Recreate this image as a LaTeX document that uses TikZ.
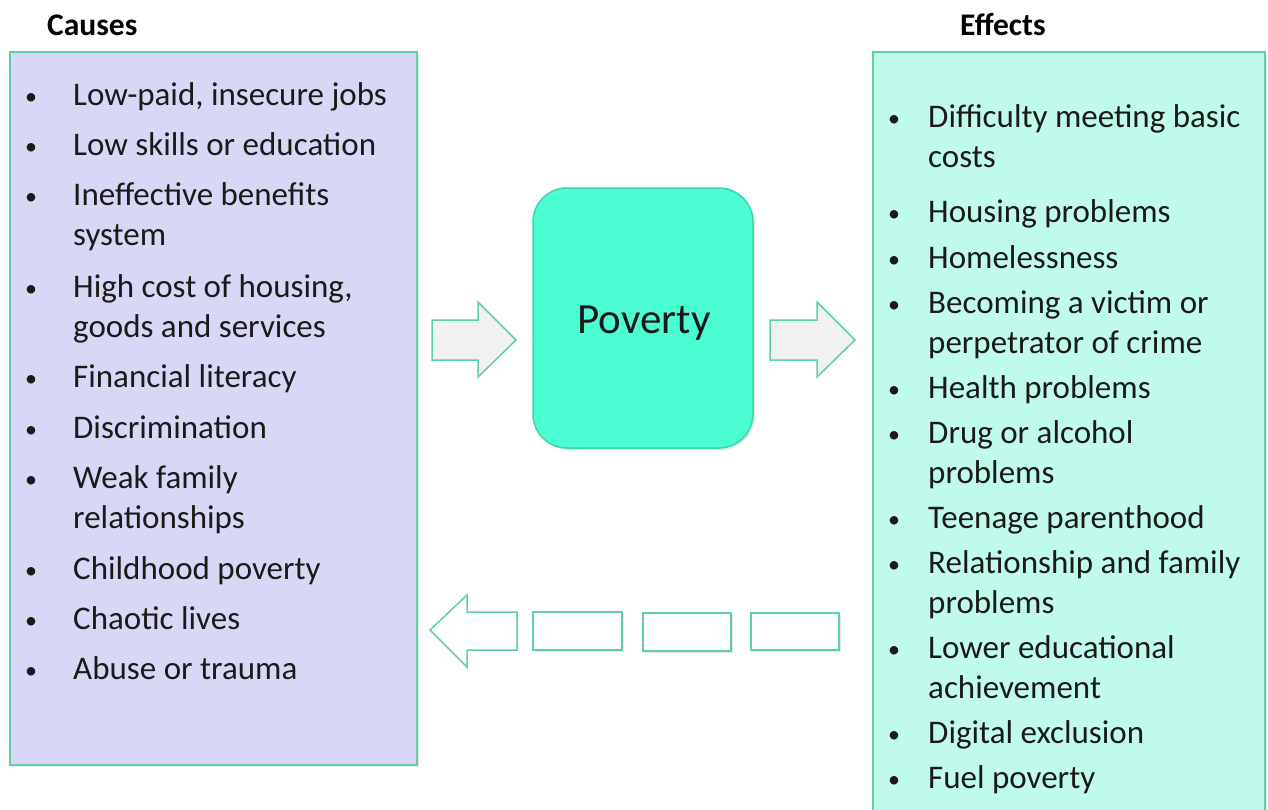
\documentclass[tikz,border=0pt]{standalone}
\usepackage{fontspec}
\setmainfont{Carlito}
\usetikzlibrary{shadows}
\definecolor{edgeteal}{HTML}{5CCFAE}
\definecolor{lavfill}{HTML}{D8D8F6}
\definecolor{mintfill}{HTML}{C0FAEB}
\definecolor{povfill}{HTML}{4BFDD2}
\definecolor{povedge}{HTML}{3CD5AE}
\definecolor{arrowfill}{HTML}{F1F1F1}
\definecolor{txt}{HTML}{1A1A1A}
\tikzset{
  panel/.style={draw=edgeteal, line width=2pt, drop shadow={shadow xshift=2pt, shadow yshift=-2pt, opacity=0.2}},
  blockarrow/.style={draw=edgeteal, line width=1.5pt, fill=arrowfill, line join=miter},
  dashbox/.style={draw=edgeteal, line width=1.5pt, fill=white, drop shadow={shadow xshift=1.5pt, shadow yshift=-1.5pt, opacity=0.2}},
  itemtxt/.style={anchor=base west, inner sep=0pt, align=left, text=txt, font=\fontsize{33}{40}\selectfont},
  bul/.style={anchor=base, inner sep=0pt, text=txt, font=\fontsize{24}{30}\selectfont},
  heading/.style={anchor=base west, inner sep=0pt, font=\bfseries\fontsize{31.5}{38}\selectfont},
}
\begin{document}
\begin{tikzpicture}[x=1pt,y=-1pt]
\useasboundingbox (0,0) rectangle (1268,809);
\clip (0,0) rectangle (1268,809);
% headings
\node[heading] (hc) at (47,35) {Causes};
\node[heading] (he) at (960,35) {Effects};
% panels
\path[panel, fill=lavfill] (10,52) rectangle (417,765);
\path[panel, fill=mintfill] (873,52) rectangle (1265,830);
% Causes list (bullet baseline / last-line baseline)
\foreach \yb/\yt/\tt [count=\i] in {
  105/105/{Low-paid, insecure jobs},
  155/155/{Low skills or education},
  205/245/{Ineffective benefits\\system},
  297/337/{High cost of housing,\\goods and services},
  387/387/{Financial literacy},
  438/438/{Discrimination},
  488/528/{Weak family\\relationships},
  579/579/{Childhood poverty},
  629/629/{Chaotic lives},
  679/679/{Abuse or trauma}}{
  \node[bul] (cb\i) at (31,\yb-1) {•};
  \node[itemtxt] (ci\i) at (73,\yt) {\tt};
}
% Effects list
\foreach \yb/\yt/\tt [count=\i] in {
  127/167/{Difficulty meeting basic\\costs},
  222/222/{Housing problems},
  268/268/{Homelessness},
  313/353/{Becoming a victim or\\perpetrator of crime},
  398/398/{Health problems},
  443/483/{Drug or alcohol\\problems},
  528/528/{Teenage parenthood},
  573/613/{Relationship and family\\problems},
  658/698/{Lower educational\\achievement},
  743/743/{Digital exclusion},
  788/788/{Fuel poverty}}{
  \node[bul] (eb\i) at (894,\yb-1) {•};
  \node[itemtxt] (ei\i) at (928,\yt) {\tt};
}
% Poverty box
\node[draw=povedge, line width=1.5pt, fill=povfill, rounded corners=34pt,
      minimum width=220pt, minimum height=260pt, inner sep=0pt,
      drop shadow={shadow xshift=2pt, shadow yshift=-2pt, opacity=0.2}] (pov) at (643,318) {};
\node[anchor=base, inner sep=0pt, text=txt, font=\fontsize{43}{50}\selectfont] (povt) at (644,333) {Poverty};
% right-pointing block arrows
\draw[blockarrow] (432,320) -- (478,320) -- (478,302) -- (516,340) -- (478,377) -- (478,360) -- (432,360) -- cycle;
\draw[blockarrow] (770,320) -- (817,320) -- (817,302) -- (855,340) -- (817,377) -- (817,360) -- (770,360) -- cycle;
% bottom return arrow (dashed segments)
\draw[blockarrow, fill=white] (517,612) -- (467,612) -- (467,595) -- (430,630) -- (467,667) -- (467,650) -- (517,650) -- cycle;
\path[dashbox] (533,612) rectangle (622,650);
\path[dashbox] (643,613) rectangle (731,651);
\path[dashbox] (751,613) rectangle (839,650);
\end{tikzpicture}
\end{document}
